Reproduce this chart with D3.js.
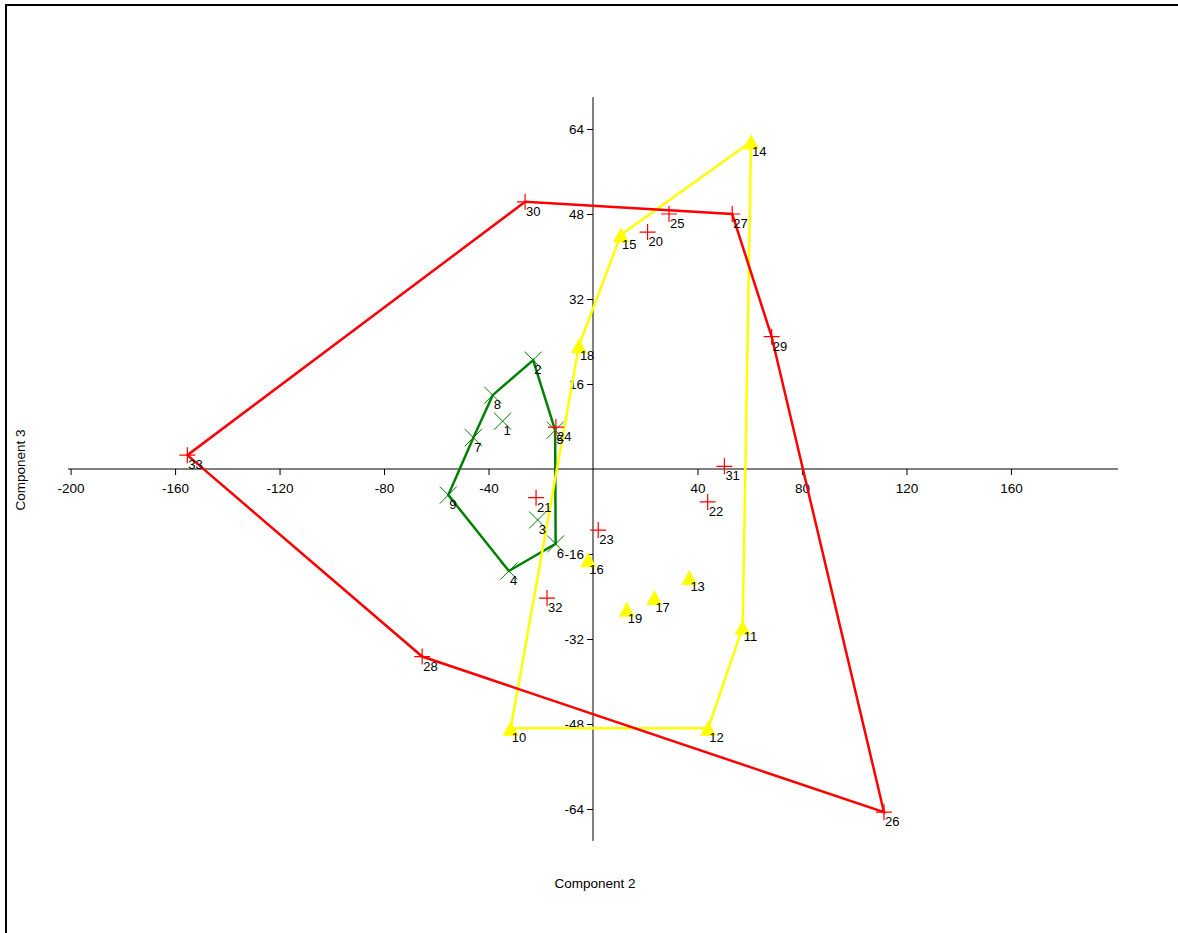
<!DOCTYPE html>
<html>
<head>
<meta charset="utf-8">
<script src="https://cdn.jsdelivr.net/npm/d3@7"></script>
<style>
  html, body { margin: 0; padding: 0; background: #fff; }
  svg { display: block; }
  text { font-family: "Liberation Sans", Arial, sans-serif; }
</style>
</head>
<body>
<div id="chart"></div>
<script>
// ---- Data ----
const greenIds = [1, 2, 3, 4, 5, 6, 7, 8, 9];
const greenX = [-34.6, -22.9, -21.2, -32.2, -14.5, -14.3, -45.8, -38.4, -55.4];
const greenY = [9.0, 20.5, -9.6, -19.2, 7.3, -14.1, 5.9, 13.9, -4.9];

const yellowIds = [10, 11, 12, 13, 14, 15, 16, 17, 18, 19];
const yellowX = [-31.5, 57.3, 44.1, 36.9, 60.5, 10.7, -1.8, 23.5, -5.4, 12.9];
const yellowY = [-48.8, -29.8, -48.8, -20.4, 61.6, 44.1, -17.1, -24.2, 23.2, -26.4];

const redIds = [20, 21, 22, 23, 24, 25, 26, 27, 28, 29, 30, 31, 32, 33];
const redX = [20.9, -21.8, 43.9, 2.0, -14.2, 29.1, 111.4, 53.3, -65.4, 68.4, -26.0, 50.3, -17.6, -155.3];
const redY = [44.6, -5.4, -6.2, -11.5, 7.9, 48.0, -64.6, 48.0, -35.3, 24.9, 50.3, 0.5, -24.3, 2.6];

const xTicks = [-200, -160, -120, -80, -40, 40, 80, 120, 160];
const yTicks = [-64, -48, -32, -16, 16, 32, 48, 64];
const xAxisExtent = [-201, 201];
const yAxisExtent = [-70, 70];
const xTitle = "Component 2";
const yTitle = "Component 3";

// ---- Setup ----
const W = 1178, H = 933;
const FONT = '"Liberation Sans", Arial, sans-serif';
const svg = d3.select("#chart").append("svg").attr("width", W).attr("height", H);

const x = d3.scaleLinear().domain([-200, 200]).range([70.6, 1115.4]);
const y = d3.scaleLinear().domain([-64, 64]).range([809, 129]);
const fmt = d => String(d);

// frame
svg.append("path")
  .attr("d", `M6,${H} V5 H${W}`)
  .attr("fill", "none").attr("stroke", "#000").attr("stroke-width", 2);

// axes
const gx = svg.append("g").attr("transform", `translate(0,${y(0)})`);
gx.append("line")
  .attr("x1", x(xAxisExtent[0])).attr("x2", x(xAxisExtent[1]))
  .attr("stroke", "#000").attr("stroke-width", 1);
gx.call(d3.axisBottom(x).tickValues(xTicks).tickFormat(fmt).tickSize(6).tickSizeOuter(0))
  .call(g => g.select(".domain").remove())
  .call(g => g.selectAll("text").attr("y", 14).attr("font-size", 13.5).attr("font-family", FONT).attr("fill", "#000"));

const gy = svg.append("g").attr("transform", `translate(${x(0)},0)`);
gy.append("line")
  .attr("y1", y(yAxisExtent[1])).attr("y2", y(yAxisExtent[0]))
  .attr("stroke", "#000").attr("stroke-width", 1);
gy.call(d3.axisLeft(y).tickValues(yTicks).tickFormat(fmt).tickSize(6).tickSizeOuter(0))
  .call(g => g.select(".domain").remove())
  .call(g => g.selectAll("text").attr("font-size", 13.5).attr("font-family", FONT).attr("fill", "#000"));

svg.selectAll(".tick line").attr("stroke", "#000");

// axis titles
svg.append("text").attr("x", 595).attr("y", 888).attr("text-anchor", "middle")
  .attr("font-size", 13.5).text(xTitle);
svg.append("text").attr("transform", "translate(25,470) rotate(-90)").attr("text-anchor", "middle")
  .attr("font-size", 13.5).text(yTitle);

// groups
function pts(ids, xs, ys) { return ids.map((id, i) => ({ id, x: xs[i], y: ys[i] })); }
const groups = [
  { name: "green", color: "#008000", marker: "x", data: pts(greenIds, greenX, greenY) },
  { name: "yellow", color: "#ffff00", marker: "tri", data: pts(yellowIds, yellowX, yellowY) },
  { name: "red", color: "#ff0000", marker: "plus", data: pts(redIds, redX, redY) }
];

const line = d3.line().curve(d3.curveLinearClosed);
const layer = svg.append("g");

groups.forEach(gr => {
  const hull = d3.polygonHull(gr.data.map(d => [x(d.x), y(d.y)]));
  layer.append("path").attr("d", line(hull))
    .attr("fill", "none").attr("stroke", gr.color).attr("stroke-width", 2.5)
    .attr("stroke-linejoin", "miter");
  const g = layer.append("g");
  gr.data.forEach(d => {
    const px = x(d.x), py = y(d.y);
    if (gr.marker === "x") {
      const s = 8.5;
      g.append("path").attr("d", `M${px - s},${py - s}L${px + s},${py + s}M${px - s},${py + s}L${px + s},${py - s}`)
        .attr("stroke", gr.color).attr("stroke-width", 1).attr("fill", "none");
    } else if (gr.marker === "plus") {
      const s = 8;
      g.append("path").attr("d", `M${px - s},${py}H${px + s}M${px},${py - s}V${py + s}`)
        .attr("stroke", gr.color).attr("stroke-width", 1.2).attr("fill", "none");
    } else {
      const w = 8, h = 7.5;
      g.append("path").attr("d", `M${px},${py - h}L${px + w},${py + h}L${px - w},${py + h}Z`)
        .attr("fill", gr.color).attr("stroke", "none");
    }
  });
});

// labels
groups.forEach(gr => {
  svg.append("g").selectAll("text").data(gr.data).join("text")
    .attr("x", d => x(d.x) + 1)
    .attr("y", d => y(d.y) + 14)
    .attr("font-size", 13)
    .attr("fill", "#000")
    .text(d => d.id);
});
</script>
</body>
</html>
